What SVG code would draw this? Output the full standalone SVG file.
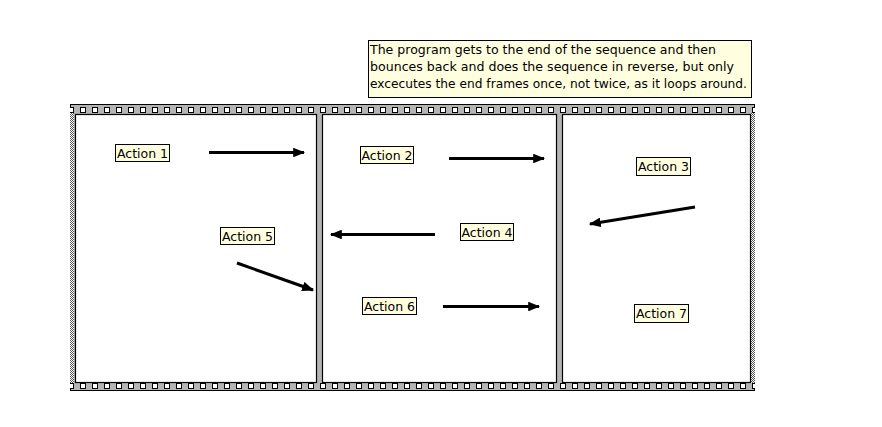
<svg xmlns="http://www.w3.org/2000/svg" width="882" height="427" viewBox="0 0 882 427">
<style>
.lbl{fill:#ffffe0;stroke:#000;stroke-width:1}
.t{font-family:"DejaVu Sans","Liberation Sans",sans-serif;font-size:12.5px;fill:#000}
.c{stroke:#000;stroke-width:3;fill:none;marker-end:url(#ah)}
.frame{fill:#fff;stroke:#000;stroke-width:1.2}
</style>
<defs>
<marker id="ah" viewBox="0 0 10 8" refX="9" refY="4" markerWidth="4" markerHeight="3.2" orient="auto" markerUnits="strokeWidth">
<path d="M0,0 L10,4 L0,8 Z" fill="#000"/>
</marker>
<pattern id="holes" x="80" y="0" width="12" height="427" patternUnits="userSpaceOnUse">
<rect x="0.5" y="107.5" width="5" height="5" fill="#fff" stroke="#000" stroke-width="1"/>
<rect x="0.5" y="383.5" width="5" height="5" fill="#fff" stroke="#000" stroke-width="1"/>
</pattern>
<pattern id="chk" x="0" y="0" width="2" height="2" patternUnits="userSpaceOnUse">
<rect width="2" height="2" fill="#fff"/>
<rect width="1" height="1" fill="#555"/>
<rect x="1" y="1" width="1" height="1" fill="#555"/>
</pattern>
</defs>
<rect width="882" height="427" fill="#fff"/>
<g id="note">
<rect x="368.5" y="40.5" width="383" height="57" class="lbl"/>
<text class="t" x="370" y="54" textLength="346" lengthAdjust="spacingAndGlyphs">The program gets to the end of the sequence and then</text>
<text class="t" x="370" y="71" textLength="364" lengthAdjust="spacingAndGlyphs">bounces back and does the sequence in reverse, but only</text>
<text class="t" x="370" y="88" textLength="377" lengthAdjust="spacingAndGlyphs">excecutes the end frames once, not twice, as it loops around.</text>
</g>
<g id="filmstrip">
<rect x="70.5" y="104.5" width="684" height="286" fill="#b4b4b4" stroke="#000" stroke-width="1"/>
<rect x="70" y="104" width="685" height="287" fill="url(#holes)"/>
<rect x="70" y="113" width="4" height="270" fill="url(#chk)"/>
<rect x="751" y="113" width="4" height="270" fill="url(#chk)"/>
<rect x="75.5" y="114.5" width="241" height="268" class="frame"/>
<rect x="322.5" y="114.5" width="234" height="268" class="frame"/>
<rect x="562.5" y="114.5" width="188" height="268" class="frame"/>
</g>
<g id="action1"><rect x="115.5" y="144.5" width="54" height="17" class="lbl"/><text class="t" x="142.5" y="158" text-anchor="middle">Action 1</text></g>
<g id="action2"><rect x="360.5" y="146.5" width="53" height="17" class="lbl"/><text class="t" x="387" y="160" text-anchor="middle">Action 2</text></g>
<g id="action3"><rect x="636.5" y="157.5" width="54" height="18" class="lbl"/><text class="t" x="663.5" y="171" text-anchor="middle">Action 3</text></g>
<g id="action4"><rect x="460.5" y="223.5" width="53" height="17" class="lbl"/><text class="t" x="487" y="237" text-anchor="middle">Action 4</text></g>
<g id="action5"><rect x="220.5" y="227.5" width="54" height="17" class="lbl"/><text class="t" x="247.5" y="241" text-anchor="middle">Action 5</text></g>
<g id="action6"><rect x="362.5" y="297.5" width="54" height="17" class="lbl"/><text class="t" x="389.5" y="311" text-anchor="middle">Action 6</text></g>
<g id="action7"><rect x="634.5" y="304.5" width="54" height="18" class="lbl"/><text class="t" x="661.5" y="318" text-anchor="middle">Action 7</text></g>
<g id="connectors">
<line x1="209" y1="152.5" x2="304" y2="152.5" class="c"/>
<line x1="449" y1="158.5" x2="544" y2="158.5" class="c"/>
<line x1="695" y1="207" x2="590" y2="224" class="c"/>
<line x1="435" y1="234.5" x2="331" y2="234.5" class="c"/>
<line x1="237" y1="263" x2="313" y2="290" class="c"/>
<line x1="443" y1="306.5" x2="539" y2="306.5" class="c"/>
</g>
</svg>
